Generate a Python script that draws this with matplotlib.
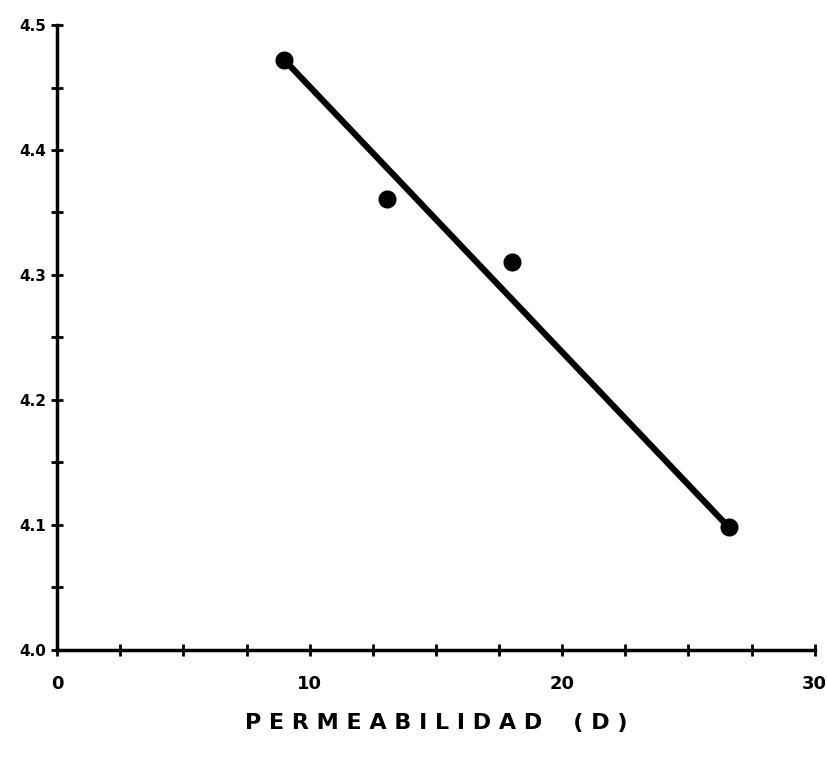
import matplotlib
matplotlib.use("Agg")
import matplotlib.pyplot as plt

# measured points (permeability in D, log value)
perm = [9.0, 13.06, 18.0, 26.6]
value = [4.472, 4.361, 4.310, 4.098]

# fitted line end points
fit_x = [9.0, 26.6]
fit_y = [4.472, 4.098]

x_ticks = [0, 2.5, 5, 7.5, 10, 12.5, 15, 17.5, 20, 22.5, 25, 27.5, 30]
x_labels = ["0", "", "", "", "10", "", "", "", "20", "", "", "", "30"]
y_ticks = [4.0, 4.05, 4.1, 4.15, 4.2, 4.25, 4.3, 4.35, 4.4, 4.45, 4.5]
y_labels = ["4.0", "", "4.1", "", "4.2", "", "4.3", "", "4.4", "", "4.5"]


def main():
    fig = plt.figure(figsize=(8.28, 7.6), dpi=100)
    ax = fig.add_axes([0.069, 0.145, 0.915, 0.822])

    ax.plot(fit_x, fit_y, color="black", linewidth=4.5, solid_capstyle="round")
    ax.plot(perm, value, linestyle="none", marker="o", markersize=12,
            color="black")

    ax.set_xlim(0, 30)
    ax.set_ylim(4.0, 4.5)
    ax.set_xticks(x_ticks)
    ax.set_xticklabels(x_labels, fontsize=13, fontweight="bold")
    ax.set_yticks(y_ticks)
    ax.set_yticklabels(y_labels, fontsize=11, fontweight="bold")
    ax.tick_params(axis="both", direction="inout", length=9, width=2)
    ax.tick_params(axis="x", pad=14)

    for side in ["top", "right"]:
        ax.spines[side].set_visible(False)
    for side in ["left", "bottom"]:
        ax.spines[side].set_linewidth(2.5)

    ax.set_xlabel("P E R M E A B I L I D A D    ( D )", fontsize=16,
                  fontweight="bold", labelpad=14)

    fig.savefig("out.png", dpi=100)


if __name__ == "__main__":
    main()
